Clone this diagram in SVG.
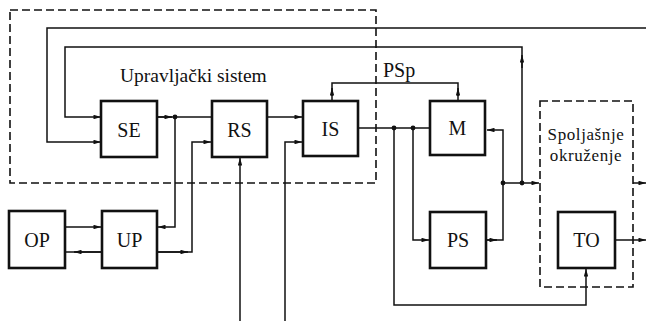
<svg xmlns="http://www.w3.org/2000/svg" width="646" height="321" viewBox="0 0 646 321">
<defs>
<style>
.box{fill:#fff;stroke:#111;stroke-width:2.6}
.dash{fill:none;stroke:#111;stroke-width:1.6;stroke-dasharray:8 4}
.ln{fill:none;stroke:#111;stroke-width:1.5}
text{font-family:"Liberation Serif","Times New Roman","DejaVu Serif",serif;fill:#111}
.lbl{font-size:20px;text-anchor:middle}
.sp{font-size:17px;letter-spacing:0.6px;text-anchor:middle}
.txt{font-size:19.5px}
.dot{fill:#111}
</style>
<marker id="ar" viewBox="0 0 10 6" refX="10" refY="3" markerWidth="8" markerHeight="4.5" markerUnits="userSpaceOnUse" orient="auto">
<path d="M0,0 L10,3 L0,6 z" fill="#111"/>
</marker>
</defs>
<rect width="646" height="321" fill="#fff"/>
<g id="frames">
<rect class="dash" x="10" y="10" width="366" height="173"/>
<rect class="dash" x="540" y="101" width="93" height="186"/>
</g>
<g id="connectors">
<path class="ln" d="M646,28 H47 V142 H101" marker-end="url(#ar)"/>
<path class="ln" d="M522,183 V47 H65 V117 H101" marker-end="url(#ar)"/>
<path class="ln" d="M522,68 V55" marker-end="url(#ar)"/>
<path class="ln" d="M157,117 H212"/>
<path class="ln" d="M157,117 H172" marker-end="url(#ar)"/>
<path class="ln" d="M175,117 V227 H158" marker-end="url(#ar)"/>
<path class="ln" d="M157,252 H192 V142 H211" marker-end="url(#ar)"/>
<path class="ln" d="M157,252 H188" marker-end="url(#ar)"/>
<path class="ln" d="M65,227 H101" marker-end="url(#ar)"/>
<path class="ln" d="M101,252 H66"/>
<path class="ln" d="M101,252 H74" marker-end="url(#ar)"/>
<path class="ln" d="M267,117 H302" marker-end="url(#ar)"/>
<path class="ln" d="M240,321 V158" marker-end="url(#ar)"/>
<path class="ln" d="M285,321 V142 H302" marker-end="url(#ar)"/>
<path class="ln" d="M332,101 V83 H458 V101"/>
<path class="ln" d="M332,96 V88" marker-end="url(#ar)"/>
<path class="ln" d="M458,96 V88" marker-end="url(#ar)"/>
<path class="ln" d="M358,128 H430"/>
<path class="ln" d="M394,128 V305 H586 V269" marker-end="url(#ar)"/>
<path class="ln" d="M413,128 V240 H429" marker-end="url(#ar)"/>
<path class="ln" d="M486,240 H503 V130 H487" marker-end="url(#ar)"/>
<path class="ln" d="M486,240 H497" marker-end="url(#ar)"/>
<path class="ln" d="M503,183 H539" marker-end="url(#ar)"/>
<path class="ln" d="M633,183 H646" marker-end="url(#ar)"/>
<path class="ln" d="M615,240 H646" marker-end="url(#ar)"/>
<circle class="dot" cx="175" cy="117" r="2.4"/>
<circle class="dot" cx="394" cy="128" r="2.4"/>
<circle class="dot" cx="413" cy="128" r="2.4"/>
<circle class="dot" cx="503" cy="183" r="2.4"/>
<circle class="dot" cx="522" cy="183" r="2.4"/>
</g>
<g id="SE"><rect class="box" x="101" y="101" width="56" height="56"/><text class="lbl" x="129" y="137">SE</text></g>
<g id="RS"><rect class="box" x="212" y="101" width="55" height="56"/><text class="lbl" x="239.5" y="137">RS</text></g>
<g id="IS"><rect class="box" x="303" y="101" width="55" height="55"/><text class="lbl" x="330.5" y="136">IS</text></g>
<g id="M"><rect class="box" x="430" y="101" width="55" height="54"/><text class="lbl" x="457.5" y="135">M</text></g>
<g id="PS"><rect class="box" x="430" y="212" width="56" height="56"/><text class="lbl" x="458" y="247">PS</text></g>
<g id="TO"><rect class="box" x="558" y="212" width="57" height="56"/><text class="lbl" x="586.5" y="247">TO</text></g>
<g id="OP"><rect class="box" x="9" y="211" width="56" height="57"/><text class="lbl" x="37" y="247">OP</text></g>
<g id="UP"><rect class="box" x="102" y="211" width="55" height="57"/><text class="lbl" x="129.5" y="247">UP</text></g>
<g id="labels">
<text class="txt" x="120" y="82">Upravljački sistem</text>
<text class="txt" x="383" y="77" style="font-size:20px">PSp</text>
<text class="sp" x="586" y="140">Spoljašnje</text>
<text class="sp" x="586" y="161">okruženje</text>
</g>
</svg>
